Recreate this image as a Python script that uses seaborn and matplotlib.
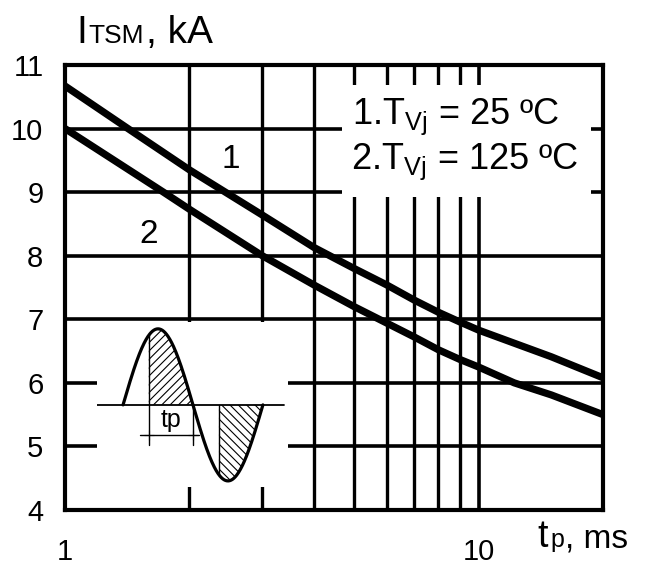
import numpy as np
import pandas as pd
import matplotlib
matplotlib.use("Agg")
import matplotlib.pyplot as plt
import seaborn as sns
from matplotlib.patches import Rectangle
from matplotlib.ticker import FixedLocator, NullFormatter

# ---- data ----
tp_25 = [1, 1.42, 2, 3, 4, 5, 6, 7, 8, 9, 10, 15, 20]
itsm_25 = [10.67, 10.0, 9.35, 8.64, 8.13, 7.80, 7.54, 7.30, 7.11, 6.96, 6.83, 6.41, 6.08]
tp_125 = [1, 1.73, 2, 3, 4, 5, 6, 7, 8, 9, 10, 12.2, 15, 20]
itsm_125 = [10.0, 9.0, 8.73, 8.0, 7.54, 7.20, 6.94, 6.72, 6.52, 6.37, 6.25, 6.0, 5.81, 5.50]
x_major = [1, 10]
x_major_labels = ["1", "10"]
x_minor = [2, 3, 4, 5, 6, 7, 8, 9]
y_ticks = [4, 5, 6, 7, 8, 9, 10, 11]
legend_lines = ["1.T$_{\\mathregular{Vj}}$ = 25 ºC", "2.T$_{\\mathregular{Vj}}$ = 125 ºC"]

sns.set_style("white")
plt.rcParams["font.family"] = ["Liberation Sans", "DejaVu Sans"]
plt.rcParams["mathtext.fontset"] = "custom"
plt.rcParams["mathtext.rm"] = "Liberation Sans"
plt.rcParams["mathtext.it"] = "Liberation Sans"
plt.rcParams["text.color"] = "black"
plt.rcParams["hatch.linewidth"] = 0.8
plt.rcParams["hatch.color"] = "black"

W, H = 646, 566
fig = plt.figure(figsize=(W / 100, H / 100), dpi=100)
fig.patch.set_facecolor("white")
ax = fig.add_axes([65 / W, 1 - 510 / H, (603 - 65) / W, (510 - 65) / H])

df1 = pd.DataFrame({"tp": tp_25, "I": itsm_25})
df2 = pd.DataFrame({"tp": tp_125, "I": itsm_125})
sns.lineplot(data=df1, x="tp", y="I", ax=ax, color="black", lw=5.2,
             solid_joinstyle="round", solid_capstyle="butt", zorder=3)
sns.lineplot(data=df2, x="tp", y="I", ax=ax, color="black", lw=5.2,
             solid_joinstyle="round", solid_capstyle="butt", zorder=3)

ax.set_xscale("log")
ax.set_xlim(1, 20)
ax.set_ylim(4, 11)
ax.xaxis.set_major_locator(FixedLocator(x_major))
ax.set_xticklabels(x_major_labels)
ax.xaxis.set_minor_locator(FixedLocator(x_minor))
ax.xaxis.set_minor_formatter(NullFormatter())
ax.set_yticks(y_ticks)
ax.set_yticklabels([str(v) for v in y_ticks])
ax.set_xlabel("")
ax.set_ylabel("")

ax.set_axisbelow(True)
ax.grid(True, which="major", axis="both", color="black", lw=2.6)
ax.grid(True, which="minor", axis="x", color="black", lw=2.4)
for s in ax.spines.values():
    s.set_visible(True)
    s.set_color("black")
    s.set_linewidth(3.0)
ax.tick_params(axis="both", which="major", direction="out", length=7.5, width=2.6,
               color="black", labelsize=21, labelcolor="black")
ax.tick_params(axis="x", which="major", pad=13)
ax.tick_params(axis="y", which="major", pad=8)
ax.tick_params(axis="x", which="minor", length=0)

# white boxes that interrupt the grid
ax.add_patch(Rectangle((4.68, 8.92), 18.7 - 4.68, 10.69 - 8.92, facecolor="white",
                       edgecolor="none", zorder=1))
x0 = 10 ** ((97 - 65) / 413)
x1 = 10 ** ((288 - 65) / 413)
ax.add_patch(Rectangle((x0, 4.36), x1 - x0, 6.96 - 4.36, facecolor="white",
                       edgecolor="none", zorder=1))

# curve labels
ax.text(2.51, 9.51, "1", fontsize=24, ha="center", va="center", zorder=4)
ax.text(1.59, 8.33, "2", fontsize=24, ha="center", va="center", zorder=4)

# legend text
fig.text(352 / W, 1 - 124 / H, legend_lines[0], fontsize=26, va="baseline", ha="left")
fig.text(351 / W, 1 - 169 / H, legend_lines[1], fontsize=26, va="baseline", ha="left")

# axis titles
fig.text(76 / W, 1 - 43 / H, "I", fontsize=28, va="baseline", ha="left")
fig.text(88 / W, 1 - 43 / H, "TSM", fontsize=19, va="baseline", ha="left")
fig.text(146 / W, 1 - 43 / H, ", kA", fontsize=28, va="baseline", ha="left")
fig.text(537 / W, 1 - 547 / H, "t", fontsize=27, va="baseline", ha="left")
fig.text(550 / W, 1 - 547 / H, "p", fontsize=18, va="baseline", ha="left")
fig.text(565 / W, 1 - 547 / H, ", ms", fontsize=24, va="baseline", ha="left")

# inset schematic of the half-sine pulse
iax = fig.add_axes([97 / W, 1 - 487 / H, (288 - 97) / W, (487 - 322) / H])
iax.set_xlim(-1.17, 7.41)
iax.set_ylim(-1.08, 1.09)
iax.axis("off")
alpha = 1.15
ph = np.linspace(0, 2 * np.pi, 300)
iax.plot(ph, np.sin(ph), color="black", lw=2.3, solid_capstyle="round")
m1 = (ph >= alpha) & (ph <= np.pi)
m2 = (ph >= np.pi + alpha)
iax.fill_between(ph[m1], 0, np.sin(ph[m1]), facecolor="none", edgecolor="black",
                 hatch="////", lw=0)
iax.fill_between(ph[m2], 0, np.sin(ph[m2]), facecolor="none", edgecolor="black",
                 hatch="\\\\\\\\", lw=0)
iax.plot([-1.17, 7.23], [0, 0], color="black", lw=1.3)
iax.plot([alpha, alpha], [np.sin(alpha), -0.53], color="black", lw=1.0)
iax.plot([np.pi, np.pi], [0, -0.53], color="black", lw=1.0)
iax.plot([np.pi + alpha, np.pi + alpha], [0, np.sin(np.pi + alpha)], color="black", lw=1.0)
iax.plot([0.76, 3.41], [-0.39, -0.39], color="black", lw=1.0)
iax.plot([alpha, np.pi], [-0.39, -0.39], ls="none", marker="+", ms=7, mew=0.8, color="black")
iax.text(2.15, -0.2, "tp", fontsize=18, ha="center", va="center")

fig.savefig("out.png", dpi=100)
